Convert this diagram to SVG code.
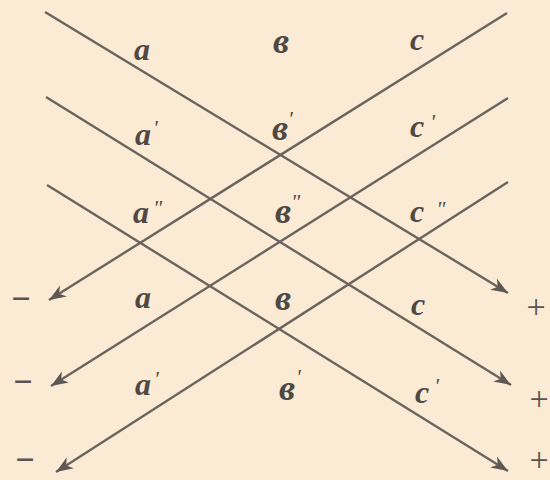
<svg xmlns="http://www.w3.org/2000/svg" width="550" height="480" viewBox="0 0 550 480">
<defs>
<marker id="arr" viewBox="-18 -8 20 16" refX="0" refY="0" markerWidth="20" markerHeight="16" markerUnits="userSpaceOnUse" orient="auto">
<path d="M-17,-6.5 L0,0 L-17,6.5 L-12,0 Z" fill="#5e5853"/>
</marker>
</defs>
<style>
.ln{stroke:#6a635e;stroke-width:2.4;fill:none;marker-end:url(#arr)}
.lb{font-family:"Liberation Serif","DejaVu Serif",serif;font-style:italic;font-weight:bold;font-size:32px;fill:#4f4945}
.bv{font-size:36px}
.pr{font-size:22px;font-weight:normal}
.sg{font-family:"Liberation Serif","DejaVu Serif",serif;font-size:34px;fill:#5a5450}
.mn{font-weight:bold}
</style>
<rect width="550" height="480" fill="#fbebd5"/>
<g id="connectors">
<line class="ln" x1="45" y1="12" x2="508" y2="293"/>
<line class="ln" x1="46" y1="97" x2="511" y2="385"/>
<line class="ln" x1="47" y1="185" x2="508" y2="471"/>
<line class="ln" x1="507" y1="13" x2="49" y2="300"/>
<line class="ln" x1="508" y1="98" x2="51" y2="386"/>
<line class="ln" x1="508" y1="182" x2="56" y2="472"/>
</g>
<g id="labels-row1">
<text class="lb" x="134" y="60">a</text>
<text class="lb bv" x="273" y="53">в</text>
<text class="lb" x="410" y="50">c</text>
</g>
<g id="labels-row2">
<text class="lb" x="135" y="145">a<tspan class="pr" dx="2" dy="-10">'</tspan></text>
<text class="lb bv" x="272" y="140">в<tspan class="pr" dx="0" dy="-14">'</tspan></text>
<text class="lb" x="410" y="137">c<tspan class="pr" dx="6" dy="-8">'</tspan></text>
</g>
<g id="labels-row3">
<text class="lb" x="133" y="223">a<tspan class="pr" dx="4" dy="-8">"</tspan></text>
<text class="lb bv" x="275" y="223">в<tspan class="pr" dx="0" dy="-14">"</tspan></text>
<text class="lb" x="410" y="222">c<tspan class="pr" dx="12" dy="-6">"</tspan></text>
</g>
<g id="labels-row4">
<text class="lb" x="135" y="308">a</text>
<text class="lb bv" x="275" y="310">в</text>
<text class="lb" x="411" y="315">c</text>
</g>
<g id="labels-row5">
<text class="lb" x="135" y="395">a<tspan class="pr" dx="3" dy="-9">'</tspan></text>
<text class="lb bv" x="279" y="400">в<tspan class="pr" dx="1" dy="-16">'</tspan></text>
<text class="lb" x="415" y="403">c<tspan class="pr" dx="5" dy="-10">'</tspan></text>
</g>
<g id="signs">
<text class="sg mn" x="21" y="310" text-anchor="middle">−</text>
<text class="sg mn" x="23" y="393" text-anchor="middle">−</text>
<text class="sg mn" x="25" y="471" text-anchor="middle">−</text>
<text class="sg" x="536" y="318" text-anchor="middle">+</text>
<text class="sg" x="539" y="410" text-anchor="middle">+</text>
<text class="sg" x="539" y="471" text-anchor="middle">+</text>
</g>
</svg>
